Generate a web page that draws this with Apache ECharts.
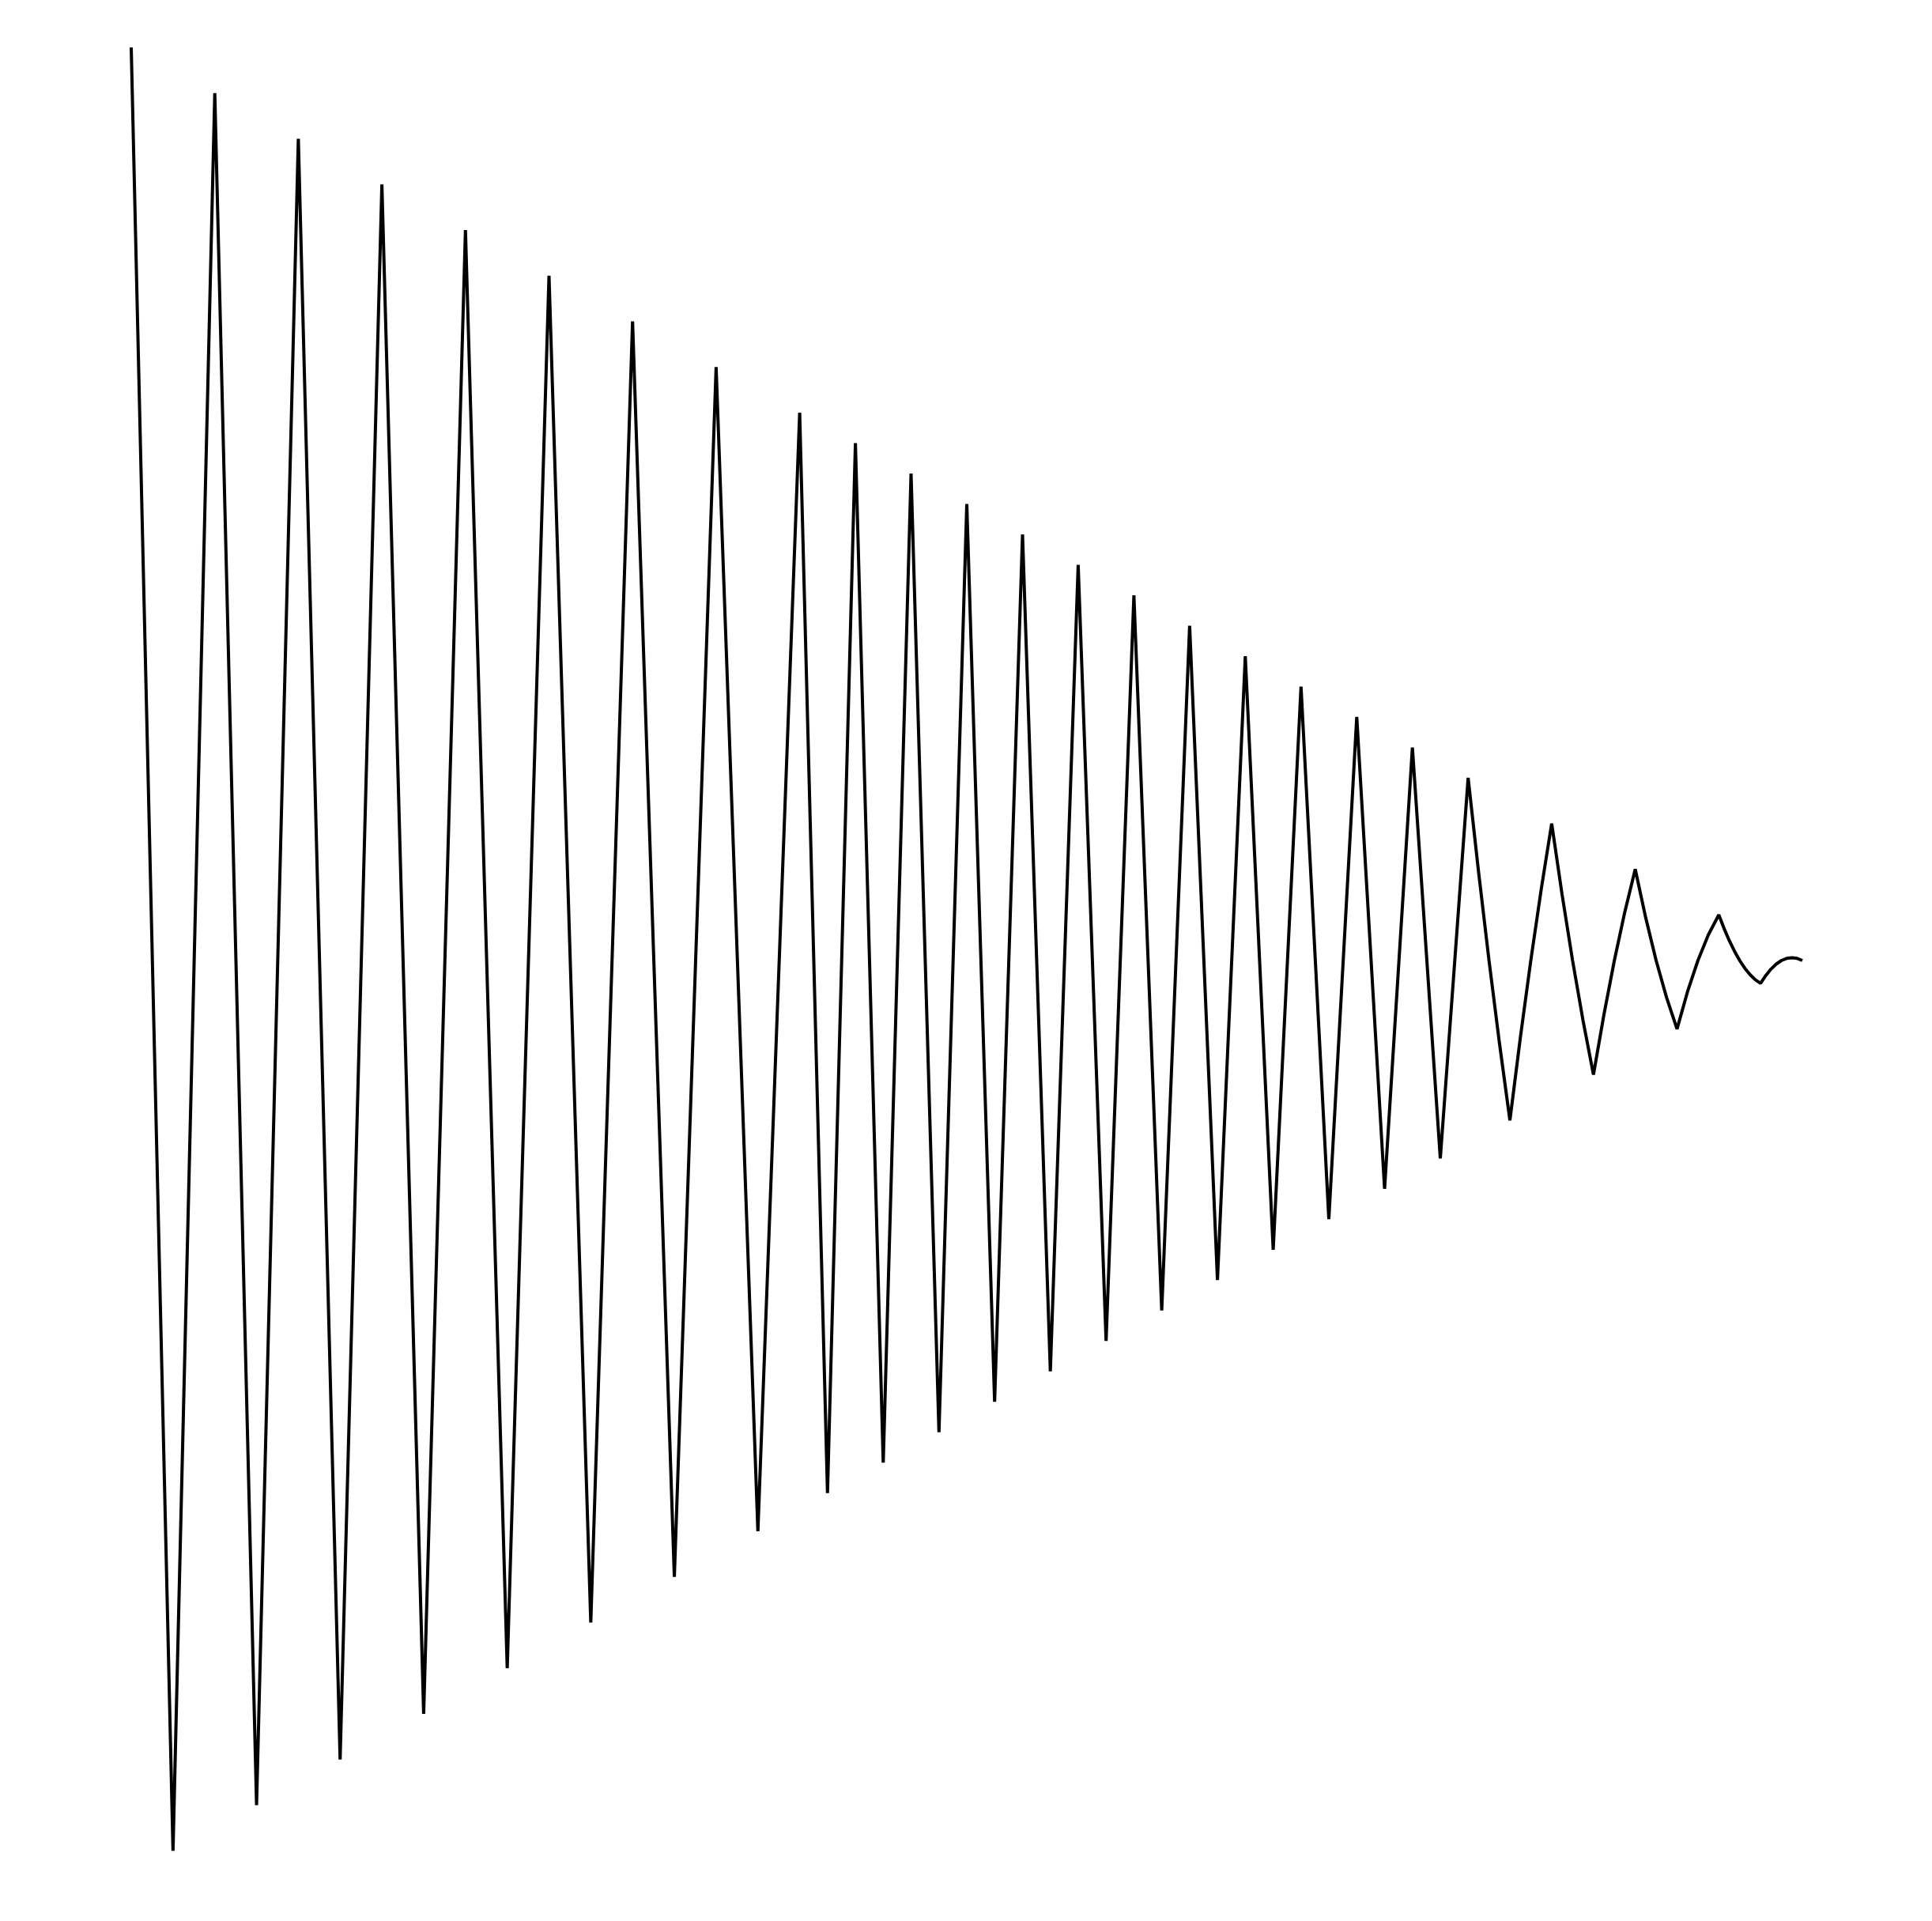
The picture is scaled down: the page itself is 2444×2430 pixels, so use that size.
<!DOCTYPE html>
<html>
<head>
<meta charset="utf-8">
<title>Damped zigzag</title>
<script src="https://cdn.jsdelivr.net/npm/echarts@6/dist/echarts.min.js"></script>
<style>
  html, body { margin: 0; padding: 0; background: #ffffff; }
  #chart { width: 2444px; height: 2430px; }
</style>
</head>
<body>
<div id="chart"></div>
<script>
// x positions of the samples
const times = [0,0.5,1,1.5,2,2.5,3,3.5,4,4.5,5,5.5,6,6.5,7,7.5,8,
  8.333,8.667,9,9.333,9.667,10,10.333,10.667,11,11.333,11.667,12,12.333,12.667,13,13.333,13.667,14,14.333,14.667,15,15.333,15.667,16,
  16.125,16.25,16.375,16.5,16.625,16.75,16.875,17,17.125,17.25,17.375,17.5,17.625,17.75,17.875,18,18.125,18.25,18.375,18.5,18.625,18.75,18.875,19,
  19.0625,19.125,19.1875,19.25,19.3125,19.375,19.4375,19.5,19.5625,19.625,19.6875,19.75,19.8125,19.875,19.9375,20];

// amplitude of the signal at each sample
const amplitude = [100,-97.5,95,-92.5,90,-87.5,85,-82.5,80,-77.5,75,-72.5,70,-67.5,65,-62.5,60,
  -58.33,56.67,-55,53.33,-51.67,50,-48.33,46.67,-45,43.33,-41.67,40,-38.33,36.67,-35,33.33,-31.67,30,-28.33,26.67,-25,23.33,-21.67,20,
  9.69,0,-9.06,-17.5,-8.44,0,7.81,15,7.19,0,-6.56,-12.5,-5.94,0,5.31,10,4.69,0,-4.06,-7.5,-3.44,0,2.81,5,
  3.52,2.19,1.02,0,-0.86,-1.56,-2.11,-2.5,-1.64,-0.94,-0.39,0,0.23,0.31,0.23,0];

const seriesData = times.map((t, i) => [t, amplitude[i]]);

const chart = echarts.init(document.getElementById('chart'), null, { renderer: 'canvas' });
chart.setOption({
  animation: false,
  backgroundColor: '#ffffff',
  grid: { left: 166, right: 164, top: 60, bottom: 60 },
  xAxis: {
    type: 'value', min: 0, max: 20,
    axisLine: { show: false }, axisTick: { show: false },
    axisLabel: { show: false }, splitLine: { show: false }
  },
  yAxis: {
    type: 'value', min: -100, max: 100,
    axisLine: { show: false }, axisTick: { show: false },
    axisLabel: { show: false }, splitLine: { show: false }
  },
  series: [{
    type: 'line',
    data: seriesData,
    symbol: 'none',
    smooth: false,
    lineStyle: { color: '#000000', width: 4 }
  }]
});
</script>
</body>
</html>
